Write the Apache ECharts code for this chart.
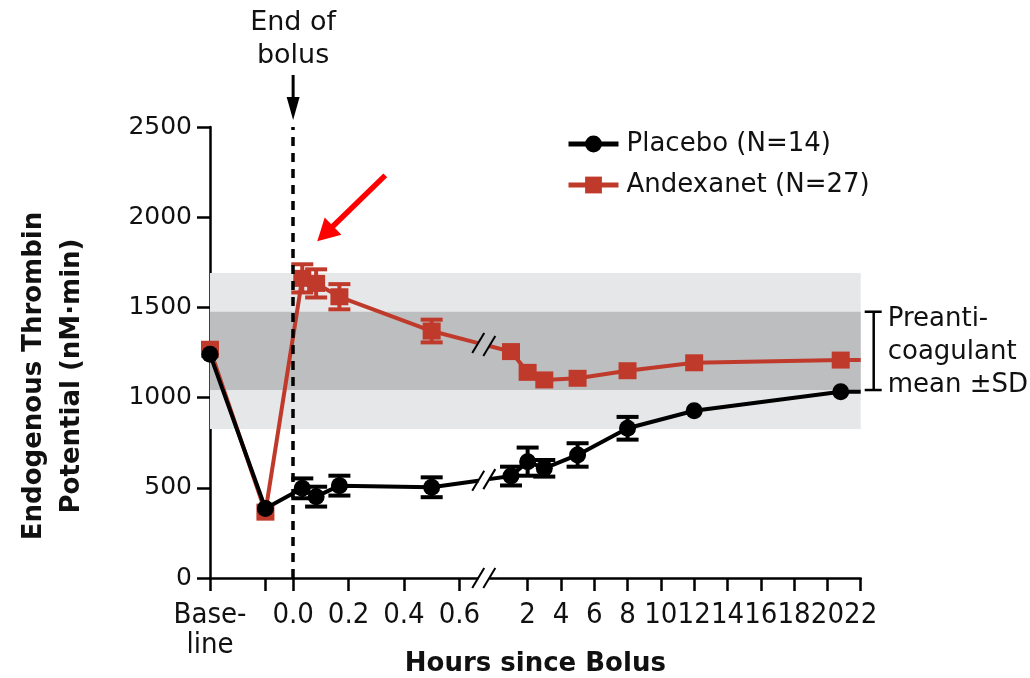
<!DOCTYPE html>
<html>
<head>
<meta charset="utf-8">
<title>Endogenous Thrombin Potential</title>
<script src="https://cdn.jsdelivr.net/npm/echarts@6/dist/echarts.min.js"></script>
<style>
  html, body { margin: 0; padding: 0; background: #ffffff; }
  #chart { width: 1030px; height: 678px; }
</style>
</head>
<body>
<div id="chart"></div>
<script>
// Sampling times in hours after the end of the bolus; the first two slots are
// the baseline draw and the draw taken just before the bolus.
const sampleTimes = ['baseline', 'preBolus', 0.033, 0.083, 0.167, 0.5, 1, 2, 3, 5, 8, 12, 20.8];

const placeboMean = [1240, 385, 497, 451, 512, 503, 565, 645, 608, 682, 830, 927, 1033];
const placeboSD   = [0, 0, 55, 55, 55, 55, 52, 78, 46, 65, 63, 0, 0];

const andexanetMean = [1268, 365, 1661, 1633, 1559, 1369, 1255, 1140, 1098, 1107, 1149, 1193, 1208];
const andexanetSD   = [0, 0, 78, 78, 70, 63, 0, 0, 0, 0, 0, 0, 0];

// Preanticoagulant reference range: mean ±SD (dark band) and ±2SD (light band)
const refInner = [1042, 1476];
const refOuter = [826, 1690];

const xTickTimes  = ['baseline', 'preBolus', 0, 0.2, 0.4, 0.6, 2, 4, 6, 8, 10, 12, 14, 16, 18, 20, 22];
const xTickLabels = ['Base-\nline', '', '0.0', '0.2', '0.4', '0.6', '2', '4', '6', '8', '10', '12', '14', '16', '18', '20', '22'];
const yTicks = [0, 500, 1000, 1500, 2000, 2500];

const seriesNames = ['Placebo (N=14)', 'Andexanet (N=27)'];
const RED = '#C03A2B';
const BLACK = '#000000';
const FONT = "'DejaVu Sans', sans-serif";
const NARROW = "'Liberation Sans Narrow', 'DejaVu Sans Condensed', sans-serif";

// Broken time axis: the first 0.6 h uses a wide scale, later hours a compressed one.
const EARLY_END = 0.6;
const LATE_START = 2;
const LATE_OFFSET = 0.8463;   // axis position of hour 2
const LATE_SCALE = 0.0601;    // axis units per hour after the break
const BREAK_AT = 0.688;
const BREAK_HALF = 0.02;

function toAxis(t) {
  if (t === 'baseline') return -0.3;
  if (t === 'preBolus') return -0.1;
  if (t <= EARLY_END) return t;
  return LATE_OFFSET + (t - LATE_START) * LATE_SCALE;
}
const X_MIN = toAxis('baseline');
const X_MAX = toAxis(22);
const xTickPos = xTickTimes.map(toAxis);

// Line points, with a gap where the segment crosses the axis break and the
// last level carried on to the end of the axis.
const breaks = [];
function lineData(means, kind) {
  const pts = sampleTimes.map((t, i) => [toAxis(t), means[i]]);
  const out = [];
  for (let i = 0; i < pts.length; i++) {
    out.push(pts[i]);
    const a = pts[i], b = pts[i + 1];
    if (b && a[0] < BREAK_AT && b[0] > BREAK_AT) {
      const at = u => a[1] + (b[1] - a[1]) * (u - a[0]) / (b[0] - a[0]);
      const uL = BREAK_AT - BREAK_HALF, uR = BREAK_AT + BREAK_HALF;
      out.push({ value: [uL, at(uL)], symbol: 'none' });
      out.push([BREAK_AT, '-']);
      out.push({ value: [uR, at(uR)], symbol: 'none' });
      breaks.push([uL, at(uL), uR, at(uR), kind]);
    }
  }
  out.push({ value: [X_MAX, means[means.length - 1]], symbol: 'none' });
  return out;
}
const placeboLine = lineData(placeboMean, 0);
const andexanetLine = lineData(andexanetMean, 0);
breaks.push([BREAK_AT - BREAK_HALF, 0, BREAK_AT + BREAK_HALF, 0, 1]);

const errData = (means, sds) => sampleTimes.map((t, i) => [toAxis(t), means[i], sds[i]]);

function errorBarItem(color) {
  return function (params, api) {
    const u = api.value(0), m = api.value(1), sd = api.value(2);
    if (!(sd > 0)) return null;
    const hi = api.coord([u, m + sd]);
    const lo = api.coord([u, m - sd]);
    const half = 11;
    const style = { stroke: color, lineWidth: 4, fill: null };
    return {
      type: 'group',
      children: [
        { type: 'line', shape: { x1: hi[0], y1: hi[1], x2: lo[0], y2: lo[1] }, style },
        { type: 'line', shape: { x1: hi[0] - half, y1: hi[1], x2: hi[0] + half, y2: hi[1] }, style },
        { type: 'line', shape: { x1: lo[0] - half, y1: lo[1], x2: lo[0] + half, y2: lo[1] }, style }
      ]
    };
  };
}

function breakItem(params, api) {
  const pL = api.coord([api.value(0), api.value(1)]);
  const pR = api.coord([api.value(2), api.value(3)]);
  const children = [];
  if (api.value(4) === 1) {
    children.push({
      type: 'rect',
      shape: { x: pL[0], y: pL[1] - 4, width: pR[0] - pL[0], height: 8 },
      style: { fill: '#ffffff' }
    });
  }
  [pL, pR].forEach(p => children.push({
    type: 'line',
    shape: { x1: p[0] - 6, y1: p[1] + 10, x2: p[0] + 6, y2: p[1] - 10 },
    style: { stroke: '#000000', lineWidth: 2 }
  }));
  return { type: 'group', children };
}

const chart = echarts.init(document.getElementById('chart'), null, { renderer: 'canvas' });

chart.setOption({
  animation: false,
  backgroundColor: '#ffffff',
  grid: { left: 210, right: 169.3, top: 127, bottom: 100, containLabel: false, outerBoundsMode: 'none' },
  legend: {
    data: seriesNames,
    orient: 'vertical',
    left: 561,
    top: 124,
    itemWidth: 50,
    itemHeight: 21,
    itemGap: 11,
    lineStyle: { width: 5 },
    textStyle: { fontSize: 26, fontFamily: FONT, color: '#111111', lineHeight: 30, padding: [0, 0, 0, 3] }
  },
  xAxis: {
    type: 'value',
    min: X_MIN,
    max: X_MAX,
    splitLine: { show: false },
    axisLine: { show: true, onZero: false, lineStyle: { color: '#000', width: 2.5 } },
    axisTick: { show: true, length: 13, lineStyle: { color: '#000', width: 2.5 }, customValues: xTickPos },
    axisLabel: {
      customValues: xTickPos,
      margin: 22,
      fontSize: 29,
      lineHeight: 30,
      fontFamily: NARROW,
      color: '#111111',
      formatter: v => {
        const i = xTickPos.findIndex(p => Math.abs(p - v) < 1e-6);
        return i >= 0 ? xTickLabels[i] : '';
      }
    },
    name: 'Hours since Bolus',
    nameLocation: 'middle',
    nameGap: 73,
    nameMoveOverlap: false,
    nameTextStyle: { fontSize: 26, fontWeight: 'bold', fontFamily: FONT, color: '#111111' }
  },
  yAxis: {
    type: 'value',
    min: yTicks[0],
    max: yTicks[yTicks.length - 1],
    interval: 500,
    splitLine: { show: false },
    axisLine: { show: true, onZero: false, lineStyle: { color: '#000', width: 2.5 } },
    axisTick: { show: true, length: 13, lineStyle: { color: '#000', width: 2.5 } },
    axisLabel: { margin: 18, fontSize: 25, fontFamily: FONT, color: '#111111', formatter: v => String(v) }
  },
  series: [
    {
      name: 'reference',
      type: 'line',
      data: [],
      z: 1,
      silent: true,
      markArea: {
        silent: true,
        data: [
          [{ yAxis: refOuter[0], itemStyle: { color: '#E6E7E8' } }, { yAxis: refOuter[1] }],
          [{ yAxis: refInner[0], itemStyle: { color: '#BDBEC0' } }, { yAxis: refInner[1] }]
        ]
      },
      markLine: {
        silent: true,
        symbol: 'none',
        label: { show: false },
        lineStyle: { color: '#000', width: 3.5, type: [9, 7] },
        data: [{ xAxis: 0 }]
      }
    },
    {
      name: 'andexanetSD',
      type: 'custom',
      renderItem: errorBarItem(RED),
      encode: { x: 0, y: 1 },
      data: errData(andexanetMean, andexanetSD),
      clip: false,
      z: 3
    },
    {
      name: seriesNames[1],
      type: 'line',
      data: andexanetLine,
      symbol: 'rect',
      symbolSize: [18, 17],
      showAllSymbol: true,
      lineStyle: { color: RED, width: 4 },
      itemStyle: { color: RED },
      z: 4
    },
    {
      name: 'placeboSD',
      type: 'custom',
      renderItem: errorBarItem(BLACK),
      encode: { x: 0, y: 1 },
      data: errData(placeboMean, placeboSD),
      clip: false,
      z: 5
    },
    {
      name: seriesNames[0],
      type: 'line',
      data: placeboLine,
      symbol: 'circle',
      symbolSize: 17,
      showAllSymbol: true,
      lineStyle: { color: BLACK, width: 4 },
      itemStyle: { color: BLACK },
      z: 6
    },
    {
      name: 'breaks',
      type: 'custom',
      renderItem: breakItem,
      encode: { x: 0, y: 1 },
      data: breaks,
      clip: false,
      z: 7
    }
  ]
});

// Annotations placed from data coordinates
const px = (u, v) => chart.convertToPixel({ gridIndex: 0 }, [u, v]);
const top0 = px(0, yTicks[yTicks.length - 1]);
const firstDose = px(toAxis(sampleTimes[2]), andexanetMean[2]);
const refHi = px(X_MAX, refInner[1]);
const refLo = px(X_MAX, refInner[0]);

const tip = [firstDose[0] + 15, firstDose[1] - 37];
const tail = [firstDose[0] + 83, firstDose[1] - 103];
const dx = tip[0] - tail[0], dy = tip[1] - tail[1];
const len = Math.hypot(dx, dy);
const ux = dx / len, uy = dy / len;
const headLen = 22, headHalf = 12;
const base = [tip[0] - ux * headLen, tip[1] - uy * headLen];

const bx = refHi[0] + 13;

chart.setOption({
  graphic: [
    {
      type: 'text',
      x: top0[0], y: top0[1] - 88,
      style: {
        text: 'End of\nbolus', fontSize: 27, lineHeight: 33, fontFamily: FONT,
        fill: '#111111', align: 'center', verticalAlign: 'middle'
      }
    },
    {
      type: 'line',
      shape: { x1: top0[0], y1: top0[1] - 52, x2: top0[0], y2: top0[1] - 28 },
      style: { stroke: '#000', lineWidth: 3 }
    },
    {
      type: 'polygon',
      shape: { points: [[top0[0] - 6.5, top0[1] - 30], [top0[0] + 6.5, top0[1] - 30], [top0[0], top0[1] - 7]] },
      style: { fill: '#000' }
    },
    {
      type: 'line',
      shape: { x1: tail[0], y1: tail[1], x2: base[0] + ux * 2, y2: base[1] + uy * 2 },
      style: { stroke: '#FF0000', lineWidth: 5.5 }
    },
    {
      type: 'polygon',
      shape: {
        points: [
          tip,
          [base[0] - uy * headHalf, base[1] + ux * headHalf],
          [base[0] + uy * headHalf, base[1] - ux * headHalf]
        ]
      },
      style: { fill: '#FF0000' }
    },
    {
      type: 'line',
      shape: { x1: bx, y1: refHi[1], x2: bx, y2: refLo[1] },
      style: { stroke: '#000', lineWidth: 2.5 }
    },
    {
      type: 'line',
      shape: { x1: bx - 9, y1: refHi[1], x2: bx + 8, y2: refHi[1] },
      style: { stroke: '#000', lineWidth: 2.5 }
    },
    {
      type: 'line',
      shape: { x1: bx - 9, y1: refLo[1], x2: bx + 8, y2: refLo[1] },
      style: { stroke: '#000', lineWidth: 2.5 }
    },
    {
      type: 'text',
      x: bx + 14, y: (refHi[1] + refLo[1]) / 2 + 1,
      style: {
        text: 'Preanti-\ncoagulant\nmean \u00B1SD', fontSize: 26, lineHeight: 33, fontFamily: FONT,
        fill: '#111111', align: 'left', verticalAlign: 'middle'
      }
    },
    {
      type: 'text',
      x: 53, y: 376,
      rotation: Math.PI / 2,
      style: {
        text: 'Endogenous Thrombin\nPotential (nM\u00B7min)', fontSize: 26, lineHeight: 38,
        fontWeight: 'bold', fontFamily: FONT, fill: '#111111', align: 'center', verticalAlign: 'middle'
      }
    }
  ]
});
</script>
</body>
</html>
